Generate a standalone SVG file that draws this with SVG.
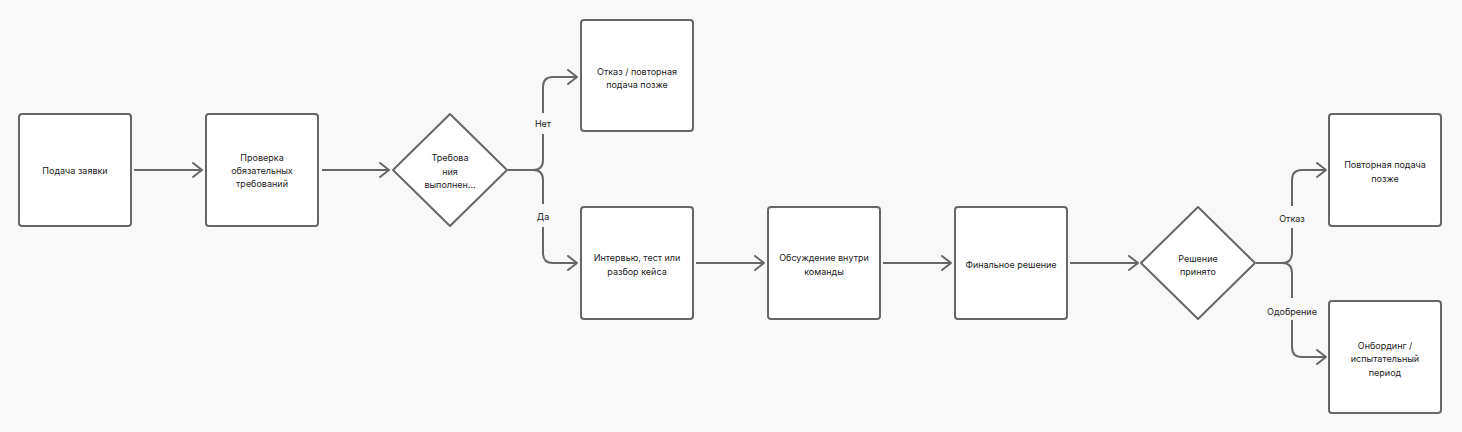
<svg xmlns="http://www.w3.org/2000/svg" width="1462" height="432" viewBox="0 0 1462 432">
<style>
.box{fill:#fff;stroke:#666;stroke-width:2}
.dia{fill:#fff;stroke:#666;stroke-width:2;stroke-linejoin:round}
.t{font-family:Inter,"Noto Sans",sans-serif;font-size:9px;fill:#222;text-anchor:middle;dominant-baseline:central}
.c{fill:none;stroke:#666;stroke-width:2}
.lb{fill:#f8f8f8}
</style>
<defs>
<marker id="ah" markerUnits="userSpaceOnUse" markerWidth="20" markerHeight="20" refX="10" refY="8" orient="auto" viewBox="0 0 20 20">
<path d="M1,1 L10,8 L1,15" fill="none" stroke="#666" stroke-width="2" stroke-linecap="round" stroke-linejoin="round"/>
</marker>
</defs>
<rect width="1462" height="432" fill="#f8f8f8"/>
<g id="connectors">
<path class="c" d="M134,170 H202" marker-end="url(#ah)"/>
<path class="c" d="M322,170 H389" marker-end="url(#ah)"/>
<path class="c" d="M508,170 H533 Q543,170 543,160 V87 Q543,77 553,77 H577" marker-end="url(#ah)"/>
<path class="c" d="M508,170 H533 Q543,170 543,180 V253 Q543,263 553,263 H577" marker-end="url(#ah)"/>
<path class="c" d="M696,263 H764" marker-end="url(#ah)"/>
<path class="c" d="M883,263 H951" marker-end="url(#ah)"/>
<path class="c" d="M1070,263 H1138" marker-end="url(#ah)"/>
<path class="c" d="M1256,263 H1282 Q1292,263 1292,253 V180 Q1292,170 1302,170 H1326" marker-end="url(#ah)"/>
<path class="c" d="M1256,263 H1282 Q1292,263 1292,273 V347 Q1292,357 1302,357 H1326" marker-end="url(#ah)"/>
<rect class="lb" x="530" y="113" width="26" height="21"/>
<text class="t" x="543" y="123">Нет</text>
<rect class="lb" x="532" y="204" width="22" height="23"/>
<text class="t" x="543" y="216">Да</text>
<rect class="lb" x="1274" y="206" width="36" height="22"/>
<text class="t" x="1292" y="218">Отказ</text>
<rect class="lb" x="1262" y="298" width="60" height="22"/>
<text class="t" x="1292" y="311">Одобрение</text>
</g>
<g id="n1"><rect class="box" x="19" y="114" width="112" height="112" rx="3"/><text class="t" x="75" y="170">Подача заявки</text></g>
<g id="n2"><rect class="box" x="206" y="114" width="112" height="112" rx="3"/><text class="t" x="262" y="157">Проверка</text><text class="t" x="262" y="170">обязательных</text><text class="t" x="262" y="183">требований</text></g>
<g id="d1"><path class="dia" d="M450,114 L507,170 L450,226 L393,170 Z"/><text class="t" x="450" y="157">Требова</text><text class="t" x="450" y="171">ния</text><text class="t" x="450" y="184">выполнен...</text></g>
<g id="n3"><rect class="box" x="581" y="20" width="112" height="111" rx="3"/><text class="t" x="637" y="71">Отказ / повторная</text><text class="t" x="637" y="84">подача позже</text></g>
<g id="n4"><rect class="box" x="581" y="207" width="112" height="112" rx="3"/><text class="t" x="637" y="257">Интервью, тест или</text><text class="t" x="637" y="271">разбор кейса</text></g>
<g id="n5"><rect class="box" x="768" y="207" width="112" height="112" rx="3"/><text class="t" x="824" y="257">Обсуждение внутри</text><text class="t" x="824" y="271">команды</text></g>
<g id="n6"><rect class="box" x="955" y="207" width="112" height="112" rx="3"/><text class="t" x="1011" y="264">Финальное решение</text></g>
<g id="d2"><path class="dia" d="M1198,207 L1255,263 L1198,319 L1141,263 Z"/><text class="t" x="1198" y="258">Решение</text><text class="t" x="1198" y="271">принято</text></g>
<g id="n7"><rect class="box" x="1329" y="114" width="112" height="112" rx="3"/><text class="t" x="1385" y="164">Повторная подача</text><text class="t" x="1385" y="178">позже</text></g>
<g id="n8"><rect class="box" x="1329" y="301" width="112" height="112" rx="3"/><text class="t" x="1385" y="345">Онбординг /</text><text class="t" x="1385" y="358">испытательный</text><text class="t" x="1385" y="372">период</text></g>
</svg>
